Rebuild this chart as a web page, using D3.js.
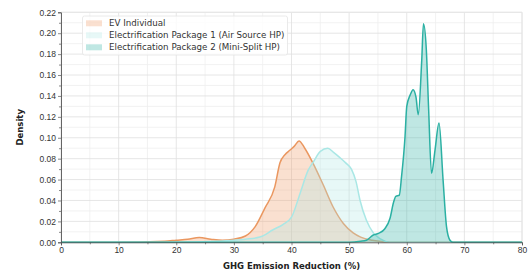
<!DOCTYPE html>
<html>
<head>
<meta charset="UTF-8">
<script src="https://d3js.org/d3.v7.min.js"></script>
<style>
  body { margin: 0; background: #fff; }
  svg { font-family: "DejaVu Sans", sans-serif; display: block; }
</style>
</head>
<body>
<svg id="chart" width="530" height="274"></svg>
<script>
// values
const seriesNames = ["EV Individual", "Electrification Package 1 (Air Source HP)", "Electrification Package 2 (Mini-Split HP)"];

const evX = [0, 10, 18, 20, 22, 24, 26, 28, 30, 32, 33.7, 35.4, 37.1, 38, 38.9, 39.7, 40.5, 41.3, 42.3, 43.7, 45.5, 47.2, 49, 50.7, 52, 54, 56, 58, 80];
const evY = [0, 0, 0.001, 0.002, 0.003, 0.0045, 0.003, 0.002, 0.003, 0.006, 0.015, 0.033, 0.053, 0.076, 0.084, 0.088, 0.092, 0.097, 0.090, 0.076, 0.055, 0.034, 0.018, 0.009, 0.005, 0.002, 0.0005, 0, 0];

const ep1X = [0, 20, 27, 30, 32, 34.5, 36.8, 38.5, 40, 41.5, 42.9, 43.8, 45, 46.3, 47.3, 48.4, 49.4, 50.4, 51.2, 51.9, 53, 54.2, 55.5, 57, 80];
const ep1Y = [0, 0, 0.001, 0.002, 0.003, 0.005, 0.012, 0.017, 0.024, 0.047, 0.069, 0.077, 0.087, 0.090, 0.086, 0.081, 0.076, 0.070, 0.058, 0.040, 0.021, 0.009, 0.003, 0, 0];

const ep2X = [0, 50, 52, 53, 54.2, 55.1, 56.2, 57.1, 57.7, 58.1, 58.7, 59.1, 59.7, 60, 60.6, 61.1, 61.6, 62, 62.6, 62.9, 63.4, 63.8, 64.3, 64.9, 65.6, 66.3, 66.9, 67.5, 68, 80];
const ep2Y = [0, 0, 0.001, 0.002, 0.007, 0.0085, 0.013, 0.023, 0.038, 0.044, 0.045, 0.063, 0.101, 0.130, 0.141, 0.146, 0.139, 0.122, 0.174, 0.209, 0.184, 0.127, 0.066, 0.088, 0.114, 0.060, 0.015, 0.002, 0, 0];

const xTicks = [0, 10, 20, 30, 40, 50, 60, 70, 80];
const yTicks = [0, 0.02, 0.04, 0.06, 0.08, 0.10, 0.12, 0.14, 0.16, 0.18, 0.20, 0.22];

const strokes = ["#ea9760", "#a9e7e5", "#2bb0a3"];
const fills = ["rgba(240,160,110,0.32)", "rgba(175,232,230,0.30)", "rgba(43,176,163,0.30)"];

const margin = { top: 12.3, right: 8, bottom: 31.7, left: 61 },
    width = 530 - margin.left - margin.right,
    height = 274 - margin.top - margin.bottom;

const svg = d3.select("#chart");
const g = svg.append("g").attr("transform", `translate(${margin.left},${margin.top})`);

const x = d3.scaleLinear().domain([0, 80]).range([0, width]);
const y = d3.scaleLinear().domain([0, 0.22]).range([height, 0]);

// grid: minor then major
const xMinor = d3.range(5, 80, 10), yMinor = d3.range(0.01, 0.22, 0.02);
g.selectAll(".gxm").data(xMinor).enter().append("line")
    .attr("x1", d => x(d)).attr("x2", d => x(d)).attr("y1", 0).attr("y2", height)
    .attr("stroke", "#efefef").attr("stroke-width", 0.8);
g.selectAll(".gym").data(yMinor).enter().append("line")
    .attr("y1", d => y(d)).attr("y2", d => y(d)).attr("x1", 0).attr("x2", width)
    .attr("stroke", "#efefef").attr("stroke-width", 0.8);
g.selectAll(".gx").data(xTicks).enter().append("line")
    .attr("x1", d => x(d)).attr("x2", d => x(d)).attr("y1", 0).attr("y2", height)
    .attr("stroke", "#e0e0e0").attr("stroke-width", 0.8);
g.selectAll(".gy").data(yTicks).enter().append("line")
    .attr("y1", d => y(d)).attr("y2", d => y(d)).attr("x1", 0).attr("x2", width)
    .attr("stroke", "#e0e0e0").attr("stroke-width", 0.8);

// light top/right frame
g.append("line").attr("x1", 0).attr("x2", width).attr("y1", 0).attr("y2", 0).attr("stroke", "#e6e6e6");
g.append("line").attr("x1", width).attr("x2", width).attr("y1", 0).attr("y2", height).attr("stroke", "#e6e6e6");

// densities
const series = [[evX, evY], [ep1X, ep1Y], [ep2X, ep2Y]];
series.forEach(([xs, ys], i) => {
    const pts = xs.map((v, j) => [v, ys[j]]);
    const area = d3.area().x(d => x(d[0])).y0(y(0)).y1(d => y(d[1])).curve(d3.curveMonotoneX);
    const line = d3.line().x(d => x(d[0])).y(d => y(d[1])).curve(d3.curveMonotoneX);
    g.append("path").datum(pts).attr("d", area).attr("fill", fills[i]);
    g.append("path").datum(pts).attr("d", line).attr("fill", "none")
        .attr("stroke", strokes[i]).attr("stroke-width", 1.5);
});

// axes
g.append("g").attr("transform", `translate(0,${height})`)
    .call(d3.axisBottom(x).tickValues(xTicks).tickSize(3).tickPadding(2).tickFormat(d3.format("d")));
g.append("g")
    .call(d3.axisLeft(y).tickValues(yTicks).tickSize(3).tickPadding(2).tickFormat(d3.format(".2f")));
g.append("g").attr("transform", `translate(0,${height})`)
    .call(d3.axisBottom(x).tickValues(xMinor).tickSize(2).tickFormat(""))
    .call(a => a.select(".domain").remove());
g.append("g")
    .call(d3.axisLeft(y).tickValues(yMinor).tickSize(2).tickFormat(""))
    .call(a => a.select(".domain").remove());
g.selectAll(".domain").attr("stroke", "#555").attr("stroke-width", 0.9);
g.selectAll(".tick line").attr("stroke", "#555").attr("stroke-width", 0.7);
g.selectAll(".tick text").attr("fill", "#333").style("font-size", "8.5px");

// axis labels
svg.append("text")
    .attr("x", margin.left + width / 2).attr("y", 269)
    .attr("text-anchor", "middle").style("font-size", "8.5px").style("font-weight", "bold")
    .attr("fill", "#222").text("GHG Emission Reduction (%)");
svg.append("text")
    .attr("transform", `translate(23,${margin.top + height / 2}) rotate(-90)`)
    .attr("text-anchor", "middle").style("font-size", "8.5px").style("font-weight", "bold")
    .attr("fill", "#222").text("Density");

// legend
const lg = svg.append("g");
lg.append("rect").attr("x", 82.5).attr("y", 16).attr("width", 205).attr("height", 39).attr("rx", 2)
    .attr("fill", "rgba(255,255,255,0.8)").attr("stroke", "#e4e4e4").attr("stroke-width", 0.8);
seriesNames.forEach((name, i) => {
    const cy = 23.3 + i * 12;
    lg.append("rect").attr("x", 86).attr("y", cy - 3).attr("width", 16).attr("height", 6)
        .attr("fill", fills[i]).attr("stroke", "none");
    lg.append("text").attr("x", 109).attr("y", cy + 3).style("font-size", "8.7px")
        .attr("fill", "#333").text(name);
});
</script>
</body>
</html>
